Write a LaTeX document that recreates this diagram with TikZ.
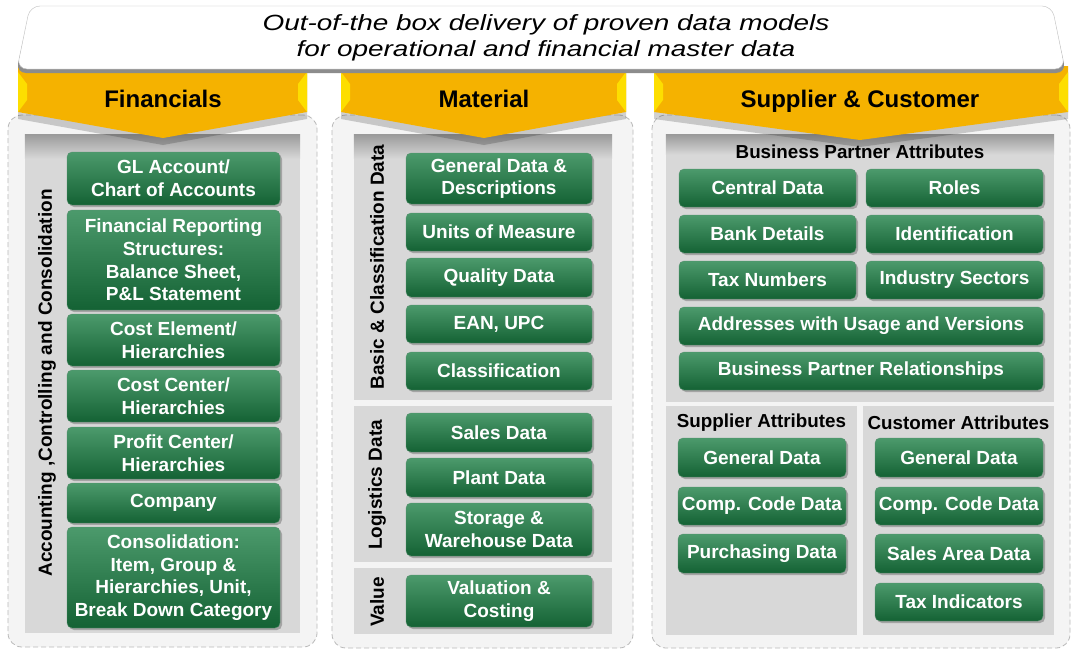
\documentclass[tikz,border=0pt]{standalone}
\usepackage{fontspec}
\setmainfont{Liberation Sans}
\newfontfamily\titlefont[FakeStretch=1.27]{Liberation Sans}
\usetikzlibrary{shadows}
\definecolor{gtop}{RGB}{76,154,108}
\definecolor{gbot}{RGB}{20,98,52}
\definecolor{ylw}{RGB}{245,178,0}
\definecolor{ylwl}{RGB}{255,230,0}
\definecolor{pan}{RGB}{244,244,244}
\definecolor{innerg}{RGB}{216,216,216}
\definecolor{dashc}{RGB}{185,185,185}
\tikzset{
  gbx/.style={rounded corners=5pt, top color=gtop, bottom color=gbot, draw=gbot!70!white, line width=0.4pt,
    text=white, font=\fontsize{19}{22.7}\selectfont\bfseries, align=center, inner sep=0pt,
    drop shadow={shadow xshift=2pt, shadow yshift=-2pt, fill=black!60, opacity=0.45}},
  igx/.style={fill=innerg, draw=none, inner sep=0pt},
  panelx/.style={fill=pan, draw=dashc, dashed, dash pattern=on 5pt off 3pt, rounded corners=14pt, line width=0.8pt, inner sep=0pt},
  vlab/.style={rotate=90, font=\fontsize{19}{22}\selectfont\bfseries, text=black, inner sep=0pt},
  hlab/.style={font=\fontsize{18.8}{22}\selectfont\bfseries, text=black, inner sep=0pt},
  headx/.style={font=\fontsize{24}{28}\selectfont\bfseries, text=black, inner sep=0pt},
  arrowx/.style={fill=ylw, drop shadow={shadow xshift=0pt, shadow yshift=-7pt, fill=black, opacity=0.18}},
  bevelx/.style={fill=ylwl, opacity=0.85},
  hazex/.style={top color=innerg!72!black, bottom color=innerg},
}
\newcommand\GB[6]{\node[gbx, minimum width={#4-#2}, minimum height={#5-#3}] (#1) at ({(#2+#4)/2},{(#3+#5)/2}) {#6};}
\newcommand\IG[5]{\node[igx, minimum width={#4-#2}, minimum height={#5-#3}] (#1) at ({(#2+#4)/2},{(#3+#5)/2}) {};}
\newcommand\PN[5]{\node[panelx, minimum width={#4-#2}, minimum height={#5-#3}] (#1) at ({(#2+#4)/2},{(#3+#5)/2}) {};}
\begin{document}
\begin{tikzpicture}[x=1pt,y=-1pt]
\useasboundingbox (0,0) rectangle (1080,653);
\fill[white] (0,0) rectangle (1080,653);
% panels
\PN{pfin}{8}{115}{317}{647}
\PN{pmat}{332}{115}{633}{648}
\PN{psup}{652}{115}{1070}{648}
% inner grey areas
\IG{ifin}{25}{135}{300}{633}
\IG{ibas}{354}{135}{612}{400}
\IG{ilog}{354}{406}{612}{562}
\IG{ival}{354}{568}{612}{634}
\IG{ibp}{666}{135}{1054}{402}
\IG{isup}{666}{406}{857}{635}
\IG{icus}{863}{406}{1054}{635}
% shadow haze under the header arrows
\shade[hazex] (ifin.north west) rectangle ([yshift=-24pt]ifin.north east);
\shade[hazex] (ibas.north west) rectangle ([yshift=-24pt]ibas.north east);
\shade[hazex] (ibp.north west) rectangle ([yshift=-20pt]ibp.north east);
% vertical labels
\node[vlab] (lacc) at (47,383) {Accounting ,Controlling and Consolidation};
\node[vlab] (lbas) at (377,267) {Basic \& Classification Data};
\node[vlab] (llog) at (377,485) {Logistics Data};
\node[vlab] (lval) at (377,602) {Value};
% financial boxes
\GB{gl}{67}{152}{280}{205}{GL Account/\\Chart of Accounts}
\GB{frs}{67}{210}{280}{310}{Financial Reporting\\Structures:\\Balance Sheet,\\P\&L Statement}
\GB{ce}{67}{314}{280}{366}{Cost Element/\\Hierarchies}
\GB{cc}{67}{370}{280}{422}{Cost Center/\\Hierarchies}
\GB{pc}{67}{427}{280}{479}{Profit Center/\\Hierarchies}
\GB{co}{67}{483}{280}{523}{Company}
\GB{cons}{67}{527}{280}{628}{Consolidation:\\Item, Group \&\\Hierarchies, Unit,\\Break Down Category}
% material boxes
\GB{gd}{406}{153}{592}{204}{General Data \&\\Descriptions}
\GB{uom}{406}{213}{592}{251}{Units of Measure}
\GB{qd}{406}{258}{592}{297}{Quality Data}
\GB{ean}{406}{305}{592}{343}{EAN, UPC}
\GB{cls}{406}{352}{592}{390}{Classification}
\GB{sd}{406}{413}{592}{452}{Sales Data}
\GB{pd}{406}{458}{592}{497}{Plant Data}
\GB{sw}{406}{503}{592}{556}{Storage \&\\Warehouse Data}
\GB{vc}{406}{575}{592}{627}{Valuation \&\\Costing}
% supplier & customer
\node[hlab] (hbp) at (860,152) {Business Partner Attributes};
\GB{cd}{679}{169}{856}{207}{Central Data}
\GB{ro}{866}{169}{1043}{207}{Roles}
\GB{bd}{679}{215}{856}{253}{Bank Details}
\GB{id}{866}{215}{1043}{253}{Identification}
\GB{tn}{679}{261}{856}{299}{Tax Numbers}
\GB{is}{866}{261}{1043}{299}{Industry Sectors}
\GB{ad}{679}{307}{1043}{345}{Addresses with Usage and Versions}
\GB{bpr}{679}{352}{1043}{390}{Business Partner Relationships}
\node[hlab] (hsa) at (761.5,423) {Supplier Attributes};
\node[hlab] (hca) at (958.5,423) {Customer Attributes};
\GB{sgd}{678}{438}{846}{477}{General Data}
\GB{scc}{678}{487}{846}{525}{Comp. Code Data}
\GB{spd}{678}{534}{846}{573}{Purchasing Data}
\GB{cgd}{875}{438}{1043}{477}{General Data}
\GB{ccc}{875}{487}{1043}{525}{Comp. Code Data}
\GB{csa}{875}{534}{1043}{573}{Sales Area Data}
\GB{cti}{875}{583}{1043}{621}{Tax Indicators}
% yellow header arrows
\path[arrowx] (18,66) -- (307,66) -- (307,112) -- (163,138) -- (18,112) -- cycle;
\path[bevelx] (18,72) -- (27,84) -- (27,100) -- (18,112) -- cycle;
\path[bevelx] (307,72) -- (298,84) -- (298,100) -- (307,112) -- cycle;
\path[arrowx] (341,66) -- (626,66) -- (626,112) -- (484,138) -- (341,112) -- cycle;
\path[bevelx] (341,72) -- (350,84) -- (350,100) -- (341,112) -- cycle;
\path[bevelx] (626,72) -- (617,84) -- (617,100) -- (626,112) -- cycle;
\path[arrowx] (654,66) -- (1068,66) -- (1068,112) -- (860,140) -- (654,112) -- cycle;
\path[bevelx] (654,72) -- (663,84) -- (663,100) -- (654,112) -- cycle;
\path[bevelx] (1068,72) -- (1059,84) -- (1059,100) -- (1068,112) -- cycle;
\node[headx] (hfin) at (163,99) {Financials};
\node[headx] (hmat) at (484,99) {Material};
\node[headx] (hsc) at (860,101) {Supplier \& Customer};
% top banner
\path[fill=black!45, rounded corners=10pt] (30,10) -- (1052,10) -- (1066,73) -- (16,73) -- cycle;
\path[fill=white, draw=black!25, rounded corners=10pt] (30,6) -- (1052,6) -- (1065,69) -- (17,69) -- cycle;
\node[inner sep=0pt, align=center, font=\titlefont\itshape\fontsize{22}{26.5}\selectfont] (title) at (546,38)
  {Out-of-the box delivery of proven data models\\for operational and financial master data};
\end{tikzpicture}
\end{document}
